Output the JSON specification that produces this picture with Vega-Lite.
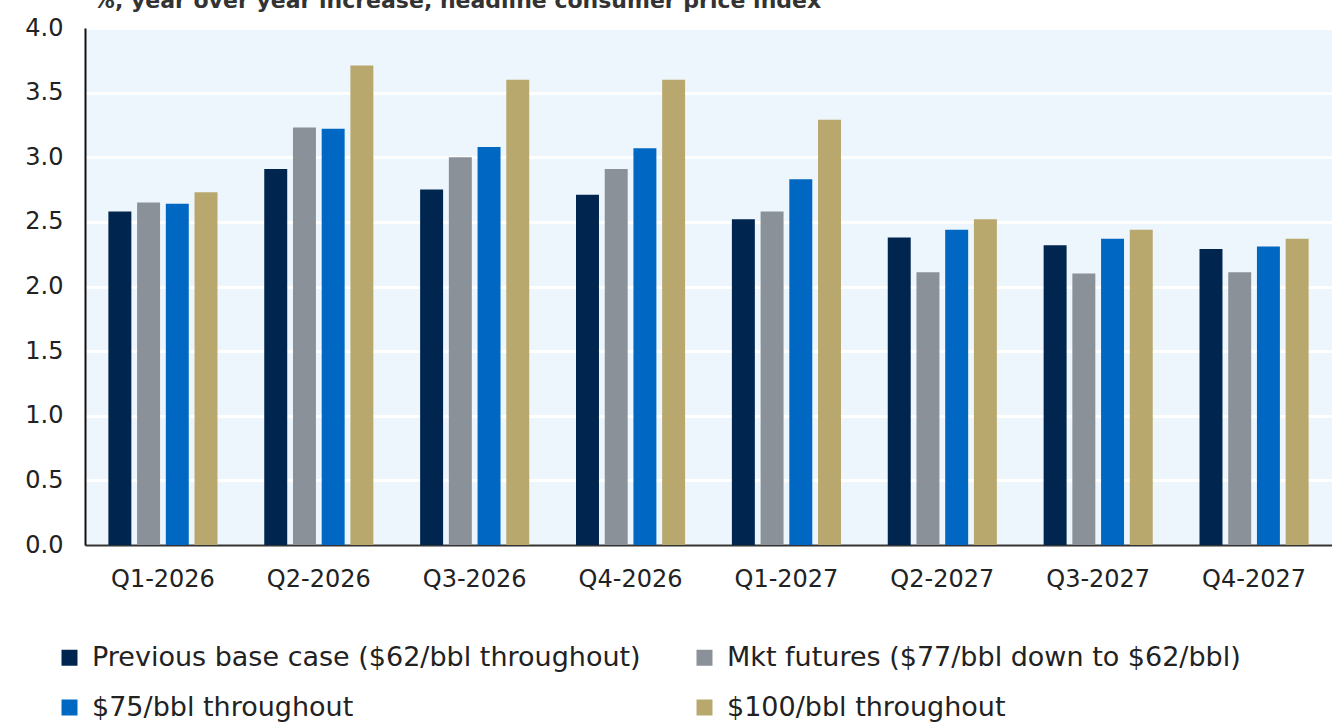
{
  "$schema": "https://vega.github.io/schema/vega-lite/v6.json",
  "width": 1247,
  "height": 517,
  "autosize": {"type": "none"},
  "padding": {"left": 85, "top": 28, "right": 0, "bottom": 180},
  "background": "#ffffff",
  "title": {
    "text": "%, year over year increase, headline consumer price index",
    "anchor": "start",
    "baseline": "alphabetic",
    "offset": 0,
    "dy": 14,
    "dx": 68,
    "font": "DejaVu Sans",
    "fontSize": 22,
    "fontWeight": "bold",
    "color": "#333333"
  },
  "config": {
    "view": {"fill": "#EEF6FD", "stroke": null},
    "font": "DejaVu Sans"
  },
  "data": {
    "values": [
      {"q": "Q1-2026", "s": "Previous base case ($62/bbl throughout)", "v": 2.58},
      {"q": "Q1-2026", "s": "Mkt futures ($77/bbl down to $62/bbl)", "v": 2.65},
      {"q": "Q1-2026", "s": "$75/bbl throughout", "v": 2.64},
      {"q": "Q1-2026", "s": "$100/bbl throughout", "v": 2.73},
      {"q": "Q2-2026", "s": "Previous base case ($62/bbl throughout)", "v": 2.91},
      {"q": "Q2-2026", "s": "Mkt futures ($77/bbl down to $62/bbl)", "v": 3.23},
      {"q": "Q2-2026", "s": "$75/bbl throughout", "v": 3.22},
      {"q": "Q2-2026", "s": "$100/bbl throughout", "v": 3.71},
      {"q": "Q3-2026", "s": "Previous base case ($62/bbl throughout)", "v": 2.75},
      {"q": "Q3-2026", "s": "Mkt futures ($77/bbl down to $62/bbl)", "v": 3.0},
      {"q": "Q3-2026", "s": "$75/bbl throughout", "v": 3.08},
      {"q": "Q3-2026", "s": "$100/bbl throughout", "v": 3.6},
      {"q": "Q4-2026", "s": "Previous base case ($62/bbl throughout)", "v": 2.71},
      {"q": "Q4-2026", "s": "Mkt futures ($77/bbl down to $62/bbl)", "v": 2.91},
      {"q": "Q4-2026", "s": "$75/bbl throughout", "v": 3.07},
      {"q": "Q4-2026", "s": "$100/bbl throughout", "v": 3.6},
      {"q": "Q1-2027", "s": "Previous base case ($62/bbl throughout)", "v": 2.52},
      {"q": "Q1-2027", "s": "Mkt futures ($77/bbl down to $62/bbl)", "v": 2.58},
      {"q": "Q1-2027", "s": "$75/bbl throughout", "v": 2.83},
      {"q": "Q1-2027", "s": "$100/bbl throughout", "v": 3.29},
      {"q": "Q2-2027", "s": "Previous base case ($62/bbl throughout)", "v": 2.38},
      {"q": "Q2-2027", "s": "Mkt futures ($77/bbl down to $62/bbl)", "v": 2.11},
      {"q": "Q2-2027", "s": "$75/bbl throughout", "v": 2.44},
      {"q": "Q2-2027", "s": "$100/bbl throughout", "v": 2.52},
      {"q": "Q3-2027", "s": "Previous base case ($62/bbl throughout)", "v": 2.32},
      {"q": "Q3-2027", "s": "Mkt futures ($77/bbl down to $62/bbl)", "v": 2.1},
      {"q": "Q3-2027", "s": "$75/bbl throughout", "v": 2.37},
      {"q": "Q3-2027", "s": "$100/bbl throughout", "v": 2.44},
      {"q": "Q4-2027", "s": "Previous base case ($62/bbl throughout)", "v": 2.29},
      {"q": "Q4-2027", "s": "Mkt futures ($77/bbl down to $62/bbl)", "v": 2.11},
      {"q": "Q4-2027", "s": "$75/bbl throughout", "v": 2.31},
      {"q": "Q4-2027", "s": "$100/bbl throughout", "v": 2.37}
    ]
  },
  "mark": {"type": "bar", "cornerRadius": 0},
  "encoding": {
    "x": {
      "field": "q",
      "type": "nominal",
      "sort": null,
      "scale": {"paddingInner": 0.3, "paddingOuter": 0.15},
      "axis": {
        "title": null,
        "labelAngle": 0,
        "ticks": false,
        "labelPadding": 22,
        "labelFontSize": 24,
        "labelColor": "#222222",
        "domainColor": "#333333",
        "domainWidth": 2,
        "grid": false
      }
    },
    "xOffset": {
      "field": "s",
      "type": "nominal",
      "sort": ["Previous base case ($62/bbl throughout)", "Mkt futures ($77/bbl down to $62/bbl)", "$75/bbl throughout", "$100/bbl throughout"],
      "scale": {"paddingInner": 0.2, "paddingOuter": 0}
    },
    "y": {
      "field": "v",
      "type": "quantitative",
      "scale": {"domain": [0, 4], "nice": false},
      "axis": {
        "title": null,
        "values": [0, 0.5, 1, 1.5, 2, 2.5, 3, 3.5, 4],
        "format": ".1f",
        "ticks": false,
        "labelPadding": 22,
        "labelFontSize": 24,
        "labelColor": "#222222",
        "domainColor": "#111111",
        "domainWidth": 2,
        "gridColor": "#ffffff",
        "gridWidth": 3
      }
    },
    "color": {
      "field": "s",
      "type": "nominal",
      "sort": ["Previous base case ($62/bbl throughout)", "Mkt futures ($77/bbl down to $62/bbl)", "$75/bbl throughout", "$100/bbl throughout"],
      "scale": {
        "domain": ["Previous base case ($62/bbl throughout)", "Mkt futures ($77/bbl down to $62/bbl)", "$75/bbl throughout", "$100/bbl throughout"],
        "range": ["#00264F", "#8A9199", "#0068C2", "#B8A86E"]
      },
      "legend": {
        "title": null,
        "orient": "none",
        "legendX": -29,
        "legendY": 616,
        "direction": "horizontal",
        "columns": 2,
        "symbolType": "square",
        "symbolSize": 256,
        "symbolStrokeWidth": 0,
        "labelFont": "DejaVu Sans",
        "labelFontSize": 27,
        "labelColor": "#222222",
        "labelLimit": 1000,
        "labelOffset": 9,
        "rowPadding": 22,
        "columnPadding": 50
      }
    }
  }
}
